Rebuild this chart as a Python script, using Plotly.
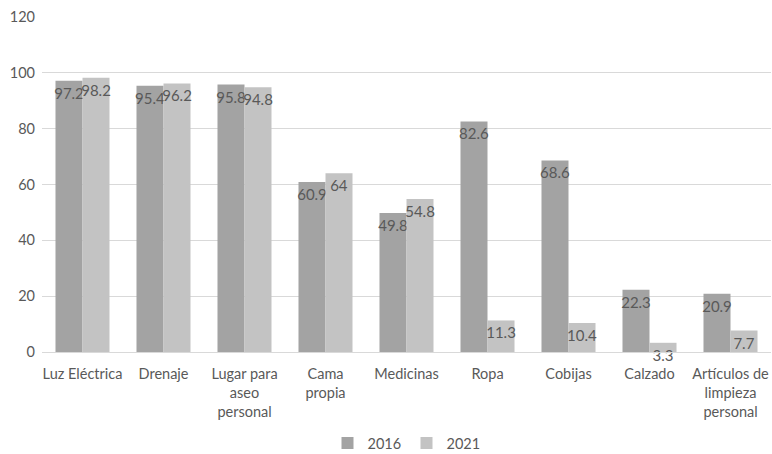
import plotly.graph_objects as go

categorias = [
    "Luz Eléctrica", "Drenaje", "Lugar para<br>aseo<br>personal", "Cama<br>propia",
    "Medicinas", "Ropa", "Cobijas", "Calzado", "Artículos de<br>limpieza<br>personal",
]
valores_2016 = [97.2, 95.4, 95.8, 60.9, 49.8, 82.6, 68.6, 22.3, 20.9]
valores_2021 = [98.2, 96.2, 94.8, 64, 54.8, 11.3, 10.4, 3.3, 7.7]
ticks_y = [0, 20, 40, 60, 80, 100, 120]

FUENTE = "Lato, Open Sans, sans-serif"
GRIS_TEXTO = "#595959"
MARGEN_INF = 102
ALTO, MARGEN_SUP = 454, 17
ALTO_GRAFICO = ALTO - MARGEN_SUP - MARGEN_INF

fig = go.Figure()
for nombre, valores, color in [("2016", valores_2016, "#a3a3a3"),
                               ("2021", valores_2021, "#c3c3c3")]:
    fig.add_trace(go.Bar(
        name=nombre, x=categorias, y=valores,
        marker=dict(color=color, line=dict(width=0)),
        text=[f"{v:g}" for v in valores],
        textposition="inside", insidetextanchor="end", textangle=0,
        constraintext="none", cliponaxis=False,
        textfont=dict(family=FUENTE, size=15, color=GRIS_TEXTO),
    ))

fig.update_layout(
    width=772, height=ALTO,
    margin=dict(l=42, r=1, t=MARGEN_SUP, b=MARGEN_INF, autoexpand=False),
    paper_bgcolor="white", plot_bgcolor="white",
    barmode="group", bargap=0.333, bargroupgap=0,
    font=dict(family=FUENTE, size=14.5, color=GRIS_TEXTO),
    legend=dict(orientation="h", x=0.5, xanchor="center",
                y=-91 / ALTO_GRAFICO, yanchor="middle",
                font=dict(size=14.5, color=GRIS_TEXTO), itemwidth=30,
                entrywidth=34, tracegroupgap=0),
    showlegend=True,
)
fig.update_yaxes(range=[0, 120], tickvals=ticks_y, showgrid=True, gridcolor="#d9d9d9",
                 gridwidth=1, zeroline=False, showline=False, ticks="",
                 ticklabelstandoff=6,
                 tickfont=dict(size=14.5, color=GRIS_TEXTO))
fig.update_xaxes(showline=True, linecolor="#d9d9d9", linewidth=1, ticks="",
                 ticklabelstandoff=9,
                 tickfont=dict(size=14.5, color=GRIS_TEXTO), tickangle=0)

fig.write_html("out.html")
